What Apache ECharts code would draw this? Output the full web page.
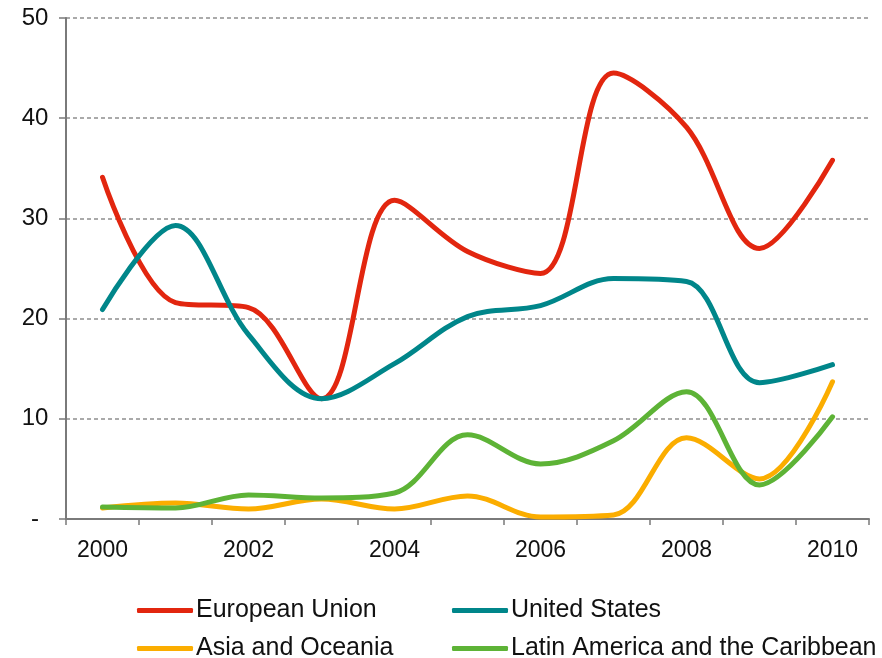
<!DOCTYPE html>
<html>
<head>
<meta charset="utf-8">
<script src="https://cdn.jsdelivr.net/npm/echarts@6/dist/echarts.min.js"></script>
<style>
html,body{margin:0;padding:0;background:#fff;}
#chart{width:882px;height:658px;}
</style>
</head>
<body>
<div id="chart"></div>
<script>
var years = ['2000','2001','2002','2003','2004','2005','2006','2007','2008','2009','2010'];
var yTicks = [0, 10, 20, 30, 40, 50];
var seriesNames = ['European Union', 'United States', 'Asia and Oceania', 'Latin America and the Caribbean'];
var europeanUnion = [34.1, 21.6, 21.1, 12.0, 31.8, 26.7, 24.5, 44.5, 39.1, 27.0, 35.8];
var unitedStates = [20.9, 29.3, 18.4, 12.0, 15.5, 20.2, 21.3, 24.0, 23.7, 13.6, 15.4];
var asiaOceania = [1.1, 1.6, 1.0, 2.0, 1.0, 2.3, 0.2, 0.4, 8.1, 4.0, 13.7];
var latinAmerica = [1.2, 1.1, 2.4, 2.1, 2.6, 8.4, 5.5, 7.8, 12.7, 3.4, 10.2];

var colors = ['#e2260f', '#00868a', '#fbad00', '#5db336'];
var font = "'Liberation Sans', Arial, sans-serif";
var textColor = '#111111';

var chart = echarts.init(document.getElementById('chart'), null, {renderer: 'canvas'});

function mkSeries(name, data, color) {
  return {
    name: name,
    type: 'line',
    data: data,
    smooth: 0.35,
    symbol: 'none',
    lineStyle: {width: 5, color: color, cap: 'round', join: 'round'},
    itemStyle: {color: color},
    z: 3
  };
}

function mkLegend(name, left, top) {
  return {
    data: [name],
    left: left,
    top: top,
    orient: 'horizontal',
    padding: 0,
    itemWidth: 56,
    itemHeight: 5,
    icon: 'roundRect',
    selectedMode: false,
    textStyle: {fontFamily: font, fontSize: 25, color: textColor, padding: [0, 0, 0, -2]}
  };
}

chart.setOption({
  animation: false,
  color: colors,
  grid: {left: 66, right: 13, top: 18, bottom: 139, containLabel: false},
  legend: [
    mkLegend(seriesNames[0], 137, 598),
    mkLegend(seriesNames[1], 452, 598),
    mkLegend(seriesNames[2], 137, 636),
    mkLegend(seriesNames[3], 452, 636)
  ],
  xAxis: {
    type: 'category',
    data: years,
    boundaryGap: true,
    axisLine: {show: true, lineStyle: {color: '#7a7a7a', width: 2}},
    axisTick: {show: true, length: 6, lineStyle: {color: '#7a7a7a', width: 1.5}, interval: 0},
    axisLabel: {
      interval: 1,
      margin: 20,
      fontFamily: font,
      fontSize: 23,
      color: textColor
    },
    splitLine: {show: false}
  },
  yAxis: {
    type: 'value',
    min: yTicks[0],
    max: yTicks[yTicks.length - 1],
    interval: 10,
    axisLine: {show: true, lineStyle: {color: '#7a7a7a', width: 2}},
    axisTick: {show: true, length: 7, lineStyle: {color: '#7a7a7a', width: 1.5}},
    axisLabel: {
      margin: 31,
      align: 'center',
      fontFamily: font,
      fontSize: 24,
      color: textColor,
      formatter: function (v) { return v === 0 ? '-' : String(v); }
    },
    splitLine: {show: true, lineStyle: {color: '#8f8f8f', width: 1.5, type: [4, 3]}}
  },
  series: [
    mkSeries(seriesNames[0], europeanUnion, colors[0]),
    mkSeries(seriesNames[1], unitedStates, colors[1]),
    mkSeries(seriesNames[2], asiaOceania, colors[2]),
    mkSeries(seriesNames[3], latinAmerica, colors[3])
  ]
});
</script>
</body>
</html>
